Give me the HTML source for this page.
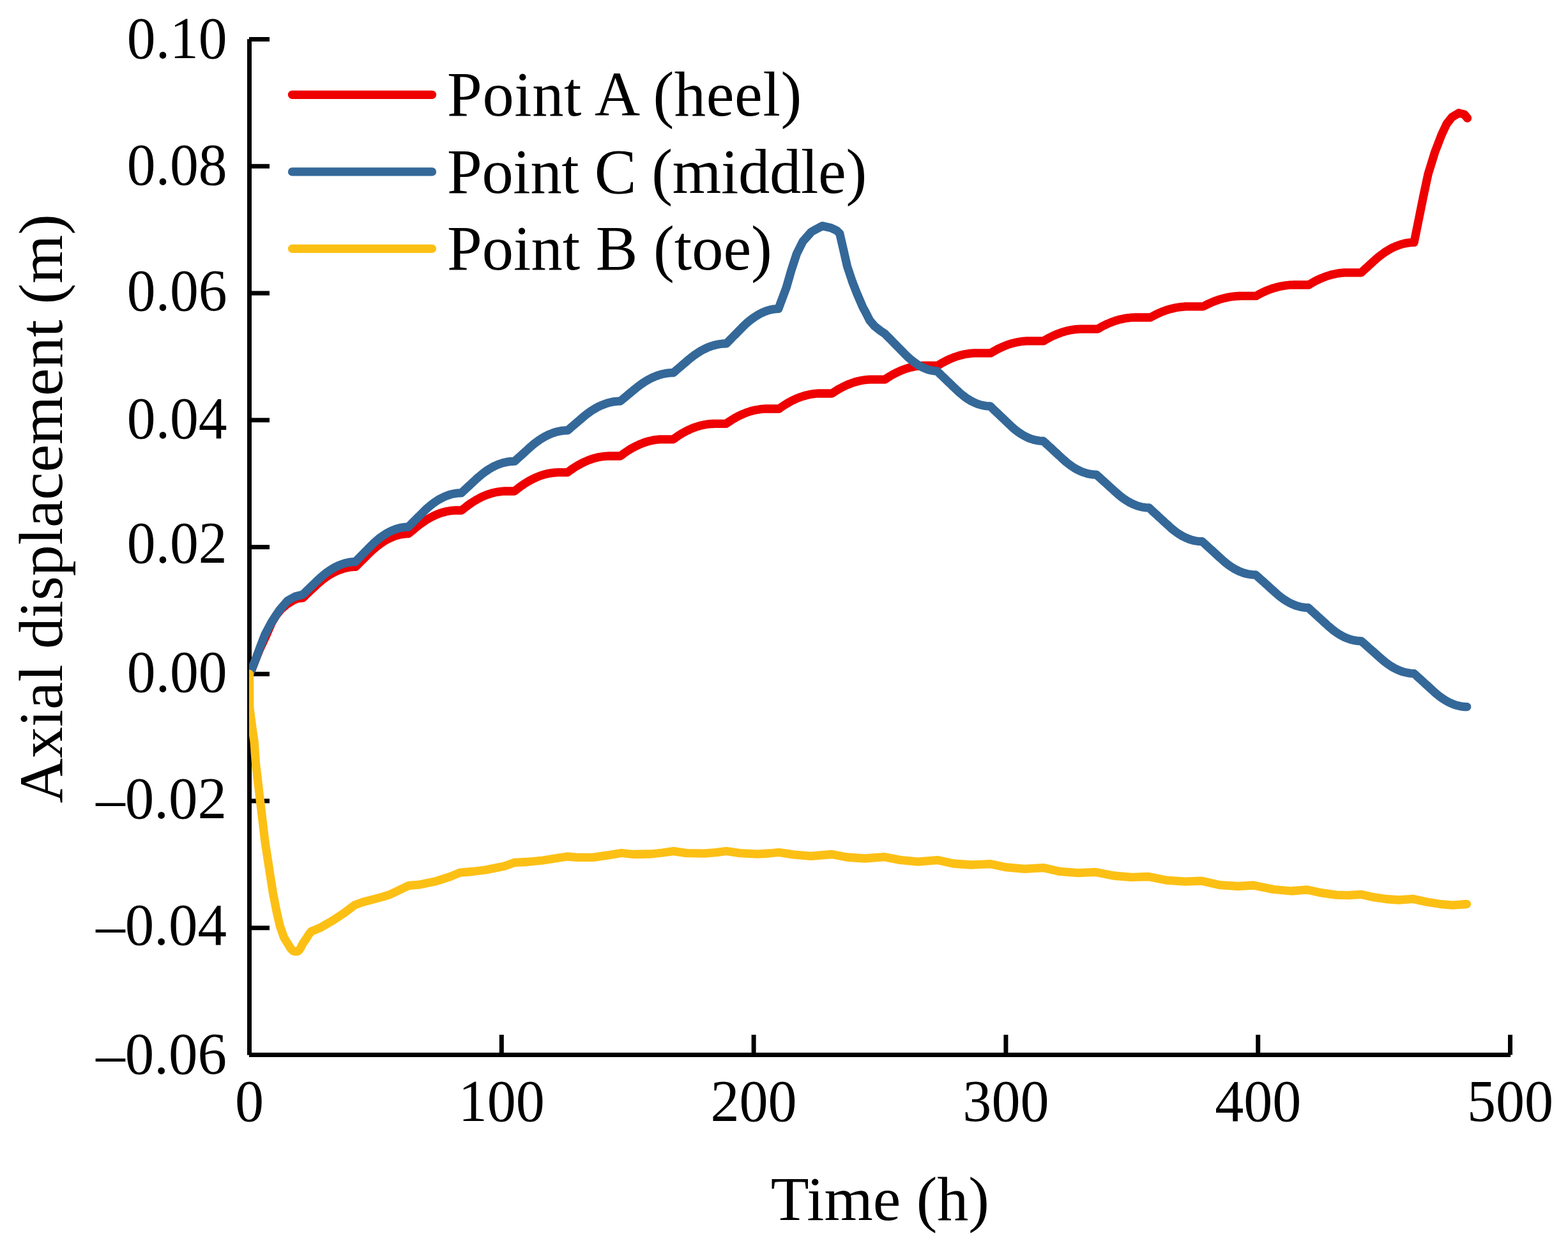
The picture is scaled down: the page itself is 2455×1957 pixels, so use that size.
<!DOCTYPE html>
<html><head><meta charset="utf-8"><title>Axial displacement vs time</title>
<style>html,body{margin:0;padding:0;background:#fff;}svg{display:block;}</style>
</head><body>
<svg width="2455" height="1957" viewBox="0 0 2455 1957"><defs><clipPath id="pa"><rect x="390" y="40" width="1990" height="1612"/></clipPath></defs>
<g stroke="#000" stroke-width="7" fill="none">
<path d="M390.5 61.2V1651.7"/>
<path d="M390 1651.5H2365"/>
<path d="M390 61.50H422"/>
<path d="M390 260.25H422"/>
<path d="M390 459.00H422"/>
<path d="M390 657.75H422"/>
<path d="M390 856.50H422"/>
<path d="M390 1055.25H422"/>
<path d="M390 1254.00H422"/>
<path d="M390 1452.75H422"/>
<path d="M390 1651.50H422"/>
<path d="M785.30 1620V1651.5"/>
<path d="M1180.10 1620V1651.5"/>
<path d="M1574.90 1620V1651.5"/>
<path d="M1969.70 1620V1651.5"/>
<path d="M2364.50 1620V1651.5"/>
</g>
<g font-family="'Liberation Serif', serif" font-size="91" text-anchor="end" fill="#000">
<text transform="translate(355.7 90.70) scale(0.985 1.02)">0.10</text>
<text transform="translate(355.7 289.00) scale(0.985 1.02)">0.08</text>
<text transform="translate(355.7 486.00) scale(0.985 1.02)">0.06</text>
<text transform="translate(355.7 685.70) scale(0.985 1.02)">0.04</text>
<text transform="translate(355.7 881.00) scale(0.985 1.02)">0.02</text>
<text transform="translate(355.7 1082.90) scale(0.985 1.02)">0.00</text>
<text transform="translate(354.95 1280.95) scale(1 1.02)">–0.02</text>
<text transform="translate(354.95 1478.95) scale(1 1.02)">–0.04</text>
<text transform="translate(354.95 1680.75) scale(1 1.02)">–0.06</text>
</g>
<g font-family="'Liberation Serif', serif" font-size="91" text-anchor="middle" fill="#000">
<text transform="translate(390.50 1754.95) scale(0.99 1.02)">0</text>
<text transform="translate(785.30 1754.95) scale(0.99 1.02)">100</text>
<text transform="translate(1180.10 1754.95) scale(0.99 1.02)">200</text>
<text transform="translate(1574.90 1754.95) scale(0.99 1.02)">300</text>
<text transform="translate(1969.70 1754.95) scale(0.99 1.02)">400</text>
<text transform="translate(2364.50 1754.95) scale(0.99 1.02)">500</text>
</g>
<text x="1377.9" y="1909.5" font-family="'Liberation Serif', serif" font-size="98" text-anchor="middle">Time (h)</text>
<text transform="translate(96.6 796.3) rotate(-90)" x="0" y="0" font-family="'Liberation Serif', serif" font-size="97.7" text-anchor="middle">Axial displacement (m)</text>
<path d="M457.5 148.3H676.5" stroke="#EE0000" stroke-width="13.3" stroke-linecap="round" fill="none"/>
<text x="700" y="180.9" font-family="'Liberation Serif', serif" font-size="98.5" textLength="555.2" lengthAdjust="spacing">Point A (heel)</text>
<path d="M457.5 268.9H676.5" stroke="#346899" stroke-width="13.3" stroke-linecap="round" fill="none"/>
<text x="700" y="302.2" font-family="'Liberation Serif', serif" font-size="98.5" textLength="657.2" lengthAdjust="spacing">Point C (middle)</text>
<path d="M457.5 389.4H676.5" stroke="#FCC015" stroke-width="13.3" stroke-linecap="round" fill="none"/>
<text x="700" y="422.2" font-family="'Liberation Serif', serif" font-size="98.5">Point B (toe)</text>
<g clip-path="url(#pa)" fill="none" stroke-width="13.3" stroke-linejoin="round" stroke-linecap="round">
<path stroke="#EE0000" d="M390.5 1055.2L393.8 1049.0 401.0 1030.4 405.9 1018.2 417.5 993.1 425.6 974.5 432.4 963.3 439.9 954.0 450.0 945.5 459.5 939.6 466.0 937.0 474.0 936.1 477.0 933.3 479.9 930.5 482.9 927.7 485.8 925.0 488.8 922.2 491.8 919.4 494.7 916.6 497.7 913.9 500.6 911.3 503.6 908.8 506.6 906.5 509.5 904.3 512.5 902.3 515.5 900.3 518.4 898.6 521.4 896.9 524.3 895.4 527.3 894.0 530.3 892.7 533.2 891.6 536.2 890.6 539.1 889.7 542.1 889.0 545.1 888.4 548.0 887.9 551.0 887.6 553.9 887.4 556.9 887.3 559.9 884.3 562.8 881.4 565.8 878.4 568.7 875.5 571.7 872.5 574.6 869.6 577.6 866.6 580.6 863.7 583.5 861.0 586.5 858.4 589.4 855.9 592.4 853.6 595.3 851.4 598.3 849.4 601.3 847.5 604.2 845.7 607.2 844.1 610.1 842.6 613.1 841.3 616.0 840.1 619.0 839.0 622.0 838.1 624.9 837.3 627.9 836.7 630.8 836.2 633.8 835.8 636.7 835.6 639.7 835.5 642.7 833.0 645.6 830.6 648.6 828.1 651.5 825.7 654.5 823.2 657.5 820.9 660.4 818.8 663.4 816.7 666.3 814.7 669.3 812.9 672.3 811.2 675.2 809.6 678.2 808.1 681.2 806.7 684.1 805.4 687.1 804.3 690.0 803.2 693.0 802.3 696.0 801.5 698.9 800.8 701.9 800.2 704.8 799.7 707.8 799.4 710.8 799.1 713.7 799.0 716.7 799.0 719.6 799.0 722.6 799.0 725.6 796.7 728.5 794.4 731.5 792.1 734.4 789.9 737.4 787.9 740.3 785.9 743.3 784.1 746.3 782.3 749.2 780.7 752.2 779.1 755.1 777.7 758.1 776.4 761.0 775.2 764.0 774.1 767.0 773.1 769.9 772.2 772.9 771.4 775.8 770.8 778.8 770.2 781.7 769.8 784.7 769.4 787.7 769.2 790.6 769.0 793.6 769.0 796.5 769.0 799.5 769.0 802.4 769.0 805.4 769.0 808.4 766.7 811.3 764.4 814.3 762.2 817.2 760.1 820.2 758.0 823.2 756.1 826.1 754.3 829.1 752.6 832.0 751.0 835.0 749.5 838.0 748.1 840.9 746.8 843.9 745.6 846.8 744.5 849.8 743.6 852.8 742.7 855.7 742.0 858.7 741.3 861.7 740.8 864.6 740.4 867.6 740.0 870.5 739.8 873.5 739.7 876.5 739.7 879.4 739.7 882.4 739.7 885.3 739.7 888.3 739.7 891.3 737.5 894.2 735.4 897.2 733.4 900.1 731.4 903.1 729.6 906.1 727.9 909.0 726.2 912.0 724.7 914.9 723.3 917.9 722.0 920.9 720.7 923.8 719.6 926.8 718.6 929.8 717.7 932.7 716.9 935.7 716.1 938.6 715.5 941.6 715.0 944.6 714.6 947.5 714.3 950.5 714.1 953.4 714.0 956.4 714.0 959.4 714.0 962.3 714.0 965.3 714.0 968.2 714.0 971.2 714.0 974.2 711.8 977.1 709.7 980.1 707.6 983.0 705.6 986.0 703.8 988.9 702.0 991.9 700.4 994.9 698.8 997.8 697.4 1000.8 696.0 1003.7 694.8 1006.7 693.6 1009.6 692.6 1012.6 691.6 1015.6 690.8 1018.5 690.1 1021.5 689.4 1024.4 688.9 1027.4 688.5 1030.3 688.2 1033.3 687.9 1036.3 687.8 1039.2 687.8 1042.2 687.8 1045.1 687.8 1048.1 687.8 1051.0 687.8 1054.0 687.8 1057.0 685.7 1059.9 683.6 1062.9 681.7 1065.8 679.8 1068.8 678.0 1071.8 676.4 1074.7 674.8 1077.7 673.4 1080.6 672.0 1083.6 670.7 1086.6 669.6 1089.5 668.5 1092.5 667.6 1095.5 666.7 1098.4 665.9 1101.4 665.3 1104.3 664.7 1107.3 664.2 1110.3 663.9 1113.2 663.6 1116.2 663.5 1119.1 663.4 1122.1 663.4 1125.1 663.4 1128.0 663.4 1131.0 663.4 1133.9 663.4 1136.9 663.4 1139.9 661.3 1142.8 659.3 1145.8 657.4 1148.7 655.6 1151.7 653.9 1154.6 652.3 1157.6 650.8 1160.6 649.4 1163.5 648.1 1166.5 646.9 1169.4 645.8 1172.4 644.8 1175.3 643.8 1178.3 643.0 1181.3 642.3 1184.2 641.7 1187.2 641.2 1190.1 640.7 1193.1 640.4 1196.0 640.2 1199.0 640.0 1202.0 640.0 1204.9 640.0 1207.9 640.0 1210.8 640.0 1213.8 640.0 1216.7 640.0 1219.7 640.0 1222.7 637.9 1225.6 635.9 1228.6 633.9 1231.5 632.1 1234.5 630.4 1237.5 628.7 1240.4 627.2 1243.4 625.7 1246.3 624.4 1249.3 623.2 1252.3 622.0 1255.2 621.0 1258.2 620.0 1261.2 619.2 1264.1 618.4 1267.1 617.8 1270.0 617.2 1273.0 616.8 1276.0 616.4 1278.9 616.2 1281.9 616.0 1284.8 616.0 1287.8 616.0 1290.8 616.0 1293.7 616.0 1296.7 616.0 1299.6 616.0 1302.6 616.0 1305.6 614.0 1308.5 612.1 1311.5 610.3 1314.4 608.6 1317.4 607.0 1320.4 605.4 1323.3 604.0 1326.3 602.7 1329.2 601.5 1332.2 600.3 1335.2 599.3 1338.1 598.3 1341.1 597.5 1344.0 596.7 1347.0 596.1 1350.0 595.5 1352.9 595.0 1355.9 594.6 1358.9 594.4 1361.8 594.2 1364.8 594.1 1367.7 594.1 1370.7 594.1 1373.7 594.1 1376.6 594.1 1379.6 594.1 1382.5 594.1 1385.5 594.1 1388.5 592.1 1391.4 590.2 1394.4 588.4 1397.3 586.7 1400.3 585.1 1403.2 583.6 1406.2 582.2 1409.2 580.8 1412.1 579.6 1415.1 578.5 1418.0 577.4 1421.0 576.5 1423.9 575.7 1426.9 574.9 1429.9 574.2 1432.8 573.7 1435.8 573.2 1438.7 572.8 1441.7 572.6 1444.6 572.4 1447.6 572.3 1450.6 572.3 1453.5 572.3 1456.5 572.3 1459.4 572.3 1462.4 572.3 1465.3 572.3 1468.3 572.3 1471.3 570.5 1474.2 568.7 1477.2 567.1 1480.1 565.5 1483.1 564.0 1486.1 562.6 1489.0 561.3 1492.0 560.1 1494.9 559.0 1497.9 558.0 1500.9 557.1 1503.8 556.2 1506.8 555.5 1509.8 554.8 1512.7 554.3 1515.7 553.8 1518.6 553.4 1521.6 553.1 1524.6 552.9 1527.5 552.8 1530.5 552.8 1533.4 552.8 1536.4 552.8 1539.4 552.8 1542.3 552.8 1545.3 552.8 1548.2 552.8 1551.2 552.8 1554.2 551.0 1557.1 549.3 1560.1 547.7 1563.0 546.1 1566.0 544.7 1568.9 543.3 1571.9 542.1 1574.9 540.9 1577.8 539.8 1580.8 538.8 1583.7 537.9 1586.7 537.1 1589.6 536.4 1592.6 535.7 1595.6 535.2 1598.5 534.7 1601.5 534.4 1604.4 534.1 1607.4 533.9 1610.3 533.8 1613.3 533.8 1616.3 533.8 1619.2 533.8 1622.2 533.8 1625.1 533.8 1628.1 533.8 1631.0 533.8 1634.0 533.8 1637.0 532.0 1640.0 530.3 1643.1 528.6 1646.1 527.1 1649.1 525.6 1652.1 524.3 1655.2 523.0 1658.2 521.9 1661.2 520.8 1664.2 519.8 1667.2 518.9 1670.3 518.1 1673.3 517.4 1676.3 516.8 1679.3 516.3 1682.3 515.9 1685.4 515.5 1688.4 515.3 1691.4 515.2 1694.4 515.1 1697.4 515.1 1700.5 515.1 1703.5 515.1 1706.5 515.1 1709.5 515.1 1712.6 515.1 1715.6 515.1 1718.6 515.1 1721.5 513.4 1724.5 511.7 1727.4 510.2 1730.4 508.7 1733.3 507.3 1736.3 506.0 1739.2 504.8 1742.2 503.7 1745.1 502.6 1748.1 501.7 1751.0 500.8 1754.0 500.1 1757.0 499.4 1759.9 498.8 1762.8 498.3 1765.8 497.8 1768.8 497.5 1771.7 497.2 1774.7 497.1 1777.6 497.0 1780.5 497.0 1783.5 497.0 1786.5 497.0 1789.4 497.0 1792.4 497.0 1795.3 497.0 1798.2 497.0 1801.2 497.0 1804.2 495.3 1807.1 493.8 1810.1 492.3 1813.0 490.9 1816.0 489.6 1818.9 488.3 1821.9 487.2 1824.9 486.1 1827.8 485.1 1830.8 484.2 1833.7 483.4 1836.7 482.7 1839.6 482.0 1842.6 481.5 1845.6 481.0 1848.5 480.6 1851.5 480.3 1854.4 480.0 1857.4 479.9 1860.3 479.8 1863.3 479.8 1866.3 479.8 1869.2 479.8 1872.2 479.8 1875.1 479.8 1878.1 479.8 1881.0 479.8 1884.0 479.8 1886.9 478.2 1889.9 476.7 1892.8 475.3 1895.8 474.0 1898.7 472.7 1901.7 471.6 1904.6 470.5 1907.6 469.4 1910.5 468.5 1913.5 467.6 1916.4 466.9 1919.4 466.2 1922.3 465.5 1925.2 465.0 1928.2 464.5 1931.1 464.2 1934.1 463.8 1937.0 463.6 1940.0 463.5 1942.9 463.4 1945.9 463.4 1948.8 463.4 1951.8 463.4 1954.7 463.4 1957.7 463.4 1960.6 463.4 1963.6 463.4 1966.5 463.4 1969.5 461.7 1972.4 460.1 1975.3 458.6 1978.3 457.2 1981.2 455.9 1984.2 454.6 1987.2 453.5 1990.1 452.4 1993.0 451.4 1996.0 450.5 1999.0 449.7 2001.9 448.9 2004.8 448.3 2007.8 447.7 2010.8 447.2 2013.7 446.8 2016.6 446.5 2019.6 446.2 2022.5 446.1 2025.5 446.0 2028.4 446.0 2031.4 446.0 2034.3 446.0 2037.3 446.0 2040.2 446.0 2043.2 446.0 2046.1 446.0 2049.1 446.0 2052.0 444.2 2055.0 442.5 2057.9 440.9 2060.8 439.3 2063.8 437.9 2066.7 436.5 2069.6 435.3 2072.6 434.1 2075.5 433.0 2078.4 432.0 2081.4 431.1 2084.3 430.2 2087.2 429.5 2090.1 428.9 2093.1 428.3 2096.0 427.8 2098.9 427.4 2101.9 427.2 2104.8 426.9 2107.7 426.8 2110.7 426.8 2113.6 426.8 2116.5 426.8 2119.5 426.8 2122.4 426.8 2125.3 426.8 2128.3 426.8 2131.2 426.8 2134.2 424.1 2137.1 421.4 2140.1 418.7 2143.0 416.0 2146.0 413.3 2148.9 410.6 2151.9 407.9 2154.9 405.3 2157.8 402.8 2160.8 400.4 2163.7 398.2 2166.7 396.0 2169.6 394.0 2172.6 392.2 2175.6 390.4 2178.5 388.8 2181.5 387.3 2184.4 386.0 2187.4 384.8 2190.3 383.7 2193.3 382.7 2196.3 381.9 2199.2 381.1 2202.2 380.6 2205.1 380.1 2208.1 379.8 2211.0 379.6 2214.0 379.5 2221.6 342.0 2228.6 307.1 2236.1 272.2 2246.9 237.3 2257.0 211.1 2265.0 194.0 2273.6 183.2 2284.0 177.0 2292.8 179.1 2297.5 185.0"/>
<path stroke="#346899" d="M390.5 1055.2L396.0 1043.0 401.0 1030.4 407.8 1011.7 415.0 993.1 425.0 974.5 437.1 955.9 450.2 940.5 462.0 934.0 474.0 931.0 476.9 928.2 479.9 925.3 482.8 922.5 485.8 919.7 488.7 916.9 491.6 914.0 494.6 911.2 497.5 908.4 500.5 905.6 503.4 903.0 506.3 900.5 509.3 898.1 512.2 895.9 515.1 893.8 518.1 891.9 521.0 890.1 524.0 888.4 526.9 886.9 529.8 885.5 532.8 884.3 535.7 883.2 538.7 882.2 541.6 881.4 544.5 880.8 547.5 880.2 550.4 879.9 553.4 879.6 556.3 879.5 559.3 876.5 562.2 873.5 565.2 870.5 568.1 867.5 571.1 864.5 574.0 861.5 577.0 858.5 580.0 855.5 582.9 852.5 585.9 849.7 588.8 847.1 591.8 844.6 594.7 842.2 597.7 840.0 600.7 838.0 603.6 836.1 606.6 834.3 609.5 832.7 612.5 831.3 615.4 830.0 618.4 828.9 621.4 827.9 624.3 827.0 627.3 826.3 630.2 825.8 633.2 825.4 636.1 825.2 639.1 825.1 642.1 822.1 645.0 819.2 648.0 816.2 651.0 813.3 654.0 810.3 656.9 807.4 659.9 804.4 662.9 801.4 665.8 798.5 668.8 795.8 671.8 793.2 674.8 790.7 677.7 788.4 680.7 786.3 683.7 784.3 686.6 782.4 689.6 780.7 692.6 779.2 695.6 777.8 698.5 776.5 701.5 775.4 704.5 774.4 707.4 773.6 710.4 773.0 713.4 772.4 716.4 772.1 719.3 771.9 722.3 771.8 725.3 769.0 728.3 766.3 731.2 763.5 734.2 760.8 737.2 758.0 740.2 755.2 743.1 752.5 746.1 749.7 749.1 747.0 752.1 744.5 755.1 742.0 758.0 739.8 761.0 737.6 764.0 735.6 767.0 733.7 770.0 732.0 772.9 730.4 775.9 729.0 778.9 727.7 781.9 726.5 784.9 725.5 787.8 724.6 790.8 723.9 793.8 723.2 796.8 722.8 799.7 722.4 802.7 722.3 805.7 722.2 808.7 719.5 811.6 716.8 814.6 714.2 817.6 711.5 820.5 708.8 823.5 706.1 826.5 703.4 829.4 700.8 832.4 698.1 835.3 695.6 838.3 693.3 841.3 691.1 844.2 689.0 847.2 687.0 850.2 685.2 853.1 683.5 856.1 682.0 859.1 680.5 862.0 679.3 865.0 678.1 868.0 677.1 870.9 676.2 873.9 675.5 876.8 674.9 879.8 674.4 882.8 674.1 885.7 673.9 888.7 673.8 891.7 671.3 894.6 668.8 897.6 666.2 900.5 663.7 903.5 661.2 906.4 658.7 909.4 656.1 912.3 653.6 915.2 651.1 918.2 648.8 921.1 646.6 924.1 644.4 927.0 642.5 930.0 640.6 933.0 638.9 935.9 637.3 938.9 635.8 941.8 634.5 944.8 633.3 947.7 632.2 950.6 631.2 953.6 630.4 956.5 629.7 959.5 629.1 962.4 628.6 965.4 628.3 968.3 628.1 971.3 628.0 974.3 625.5 977.2 623.1 980.2 620.6 983.1 618.2 986.1 615.7 989.1 613.3 992.0 610.8 995.0 608.4 997.9 606.0 1000.9 603.7 1003.9 601.5 1006.8 599.5 1009.8 597.5 1012.8 595.8 1015.7 594.1 1018.7 592.5 1021.6 591.1 1024.6 589.8 1027.6 588.6 1030.5 587.6 1033.5 586.7 1036.4 585.8 1039.4 585.2 1042.4 584.6 1045.3 584.2 1048.3 583.9 1051.2 583.7 1054.2 583.6 1057.2 581.1 1060.1 578.5 1063.1 576.0 1066.1 573.5 1069.0 570.9 1072.0 568.4 1075.0 565.9 1077.9 563.3 1080.9 560.9 1083.9 558.5 1086.8 556.3 1089.8 554.2 1092.8 552.2 1095.8 550.3 1098.7 548.6 1101.7 547.0 1104.7 545.6 1107.6 544.2 1110.6 543.0 1113.6 541.9 1116.5 541.0 1119.5 540.2 1122.5 539.5 1125.4 538.9 1128.4 538.5 1131.4 538.1 1134.3 538.0 1137.3 537.9 1140.2 534.9 1143.1 532.0 1146.0 529.0 1148.9 526.0 1151.9 523.1 1154.8 520.1 1157.7 517.1 1160.6 514.2 1163.5 511.2 1166.4 508.4 1169.3 505.8 1172.2 503.3 1175.1 501.0 1178.0 498.8 1181.0 496.7 1183.9 494.8 1186.8 493.0 1189.7 491.4 1192.6 489.9 1195.5 488.6 1198.4 487.4 1201.3 486.4 1204.2 485.5 1207.2 484.8 1210.1 484.2 1213.0 483.8 1215.9 483.5 1218.8 483.3 1231.1 450.4 1238.8 423.6 1247.5 396.9 1256.9 378.2 1270.3 363.0 1287.7 353.7 1301.0 356.8 1310.0 361.0 1314.7 365.5 1320.4 390.2 1326.5 417.0 1334.5 441.0 1341.9 460.0 1350.9 480.9 1354.8 487.9 1361.9 501.9 1369.3 510.6 1378.0 517.5 1385.8 522.8 1388.7 525.8 1391.6 528.7 1394.5 531.7 1397.4 534.6 1400.3 537.6 1403.2 540.5 1406.1 543.5 1409.0 546.4 1411.9 549.4 1414.8 552.3 1417.7 555.3 1420.6 558.1 1423.5 560.8 1426.4 563.3 1429.4 565.6 1432.3 567.8 1435.2 569.8 1438.1 571.7 1441.0 573.4 1443.9 574.9 1446.8 576.2 1449.7 577.4 1452.6 578.4 1455.5 579.3 1458.4 579.9 1461.3 580.4 1464.2 580.8 1467.1 581.0 1470.1 583.8 1473.0 586.7 1476.0 589.5 1479.0 592.4 1481.9 595.2 1484.9 598.1 1487.9 600.9 1490.8 603.8 1493.8 606.6 1496.8 609.5 1499.7 612.3 1502.7 615.0 1505.7 617.5 1508.7 619.9 1511.6 622.1 1514.6 624.2 1517.6 626.0 1520.5 627.8 1523.5 629.3 1526.5 630.7 1529.4 631.9 1532.4 633.0 1535.4 633.9 1538.3 634.6 1541.3 635.2 1544.3 635.6 1547.2 635.8 1550.2 635.9 1553.2 638.7 1556.1 641.6 1559.1 644.4 1562.1 647.2 1565.1 650.0 1568.0 652.9 1571.0 655.7 1574.0 658.5 1576.9 661.4 1579.9 664.2 1582.9 667.0 1585.9 669.7 1588.8 672.2 1591.8 674.6 1594.8 676.8 1597.7 678.8 1600.7 680.6 1603.7 682.4 1606.7 683.9 1609.6 685.3 1612.6 686.5 1615.6 687.5 1618.5 688.4 1621.5 689.1 1624.5 689.7 1627.5 690.1 1630.4 690.3 1633.4 690.4 1636.4 693.1 1639.3 695.9 1642.3 698.6 1645.3 701.3 1648.3 704.1 1651.2 706.8 1654.2 709.5 1657.2 712.3 1660.1 715.0 1663.1 717.8 1666.1 720.5 1669.1 723.1 1672.0 725.5 1675.0 727.8 1678.0 729.9 1680.9 731.9 1683.9 733.7 1686.9 735.3 1689.9 736.8 1692.8 738.1 1695.8 739.3 1698.8 740.3 1701.7 741.2 1704.7 741.9 1707.7 742.4 1710.7 742.8 1713.6 743.0 1716.6 743.1 1719.5 745.8 1722.5 748.4 1725.4 751.1 1728.4 753.8 1731.3 756.4 1734.3 759.1 1737.2 761.8 1740.1 764.4 1743.1 767.1 1746.0 769.8 1749.0 772.4 1751.9 775.0 1754.9 777.4 1757.8 779.6 1760.7 781.7 1763.7 783.6 1766.6 785.4 1769.6 787.1 1772.5 788.5 1775.5 789.9 1778.4 791.0 1781.3 792.1 1784.3 792.9 1787.2 793.7 1790.2 794.2 1793.1 794.6 1796.1 794.9 1799.0 795.0 1802.0 797.7 1804.9 800.5 1807.9 803.2 1810.9 805.9 1813.8 808.7 1816.8 811.4 1819.8 814.1 1822.7 816.9 1825.7 819.6 1828.7 822.3 1831.6 825.0 1834.6 827.6 1837.6 830.1 1840.5 832.3 1843.5 834.5 1846.5 836.4 1849.5 838.2 1852.4 839.9 1855.4 841.4 1858.4 842.7 1861.3 843.9 1864.3 844.9 1867.3 845.8 1870.2 846.5 1873.2 847.0 1876.2 847.4 1879.1 847.6 1882.1 847.7 1885.1 850.4 1888.1 853.1 1891.1 855.9 1894.1 858.6 1897.1 861.3 1900.1 864.0 1903.0 866.8 1906.0 869.5 1909.0 872.2 1912.0 874.9 1915.0 877.6 1918.0 880.2 1921.0 882.6 1924.0 884.9 1927.0 887.0 1930.0 888.9 1933.0 890.7 1936.0 892.3 1939.0 893.8 1942.0 895.1 1945.0 896.2 1947.9 897.2 1950.9 898.0 1953.9 898.7 1956.9 899.2 1959.9 899.6 1962.9 899.8 1965.9 899.8 1968.8 902.5 1971.8 905.1 1974.7 907.8 1977.7 910.4 1980.6 913.1 1983.6 915.7 1986.5 918.4 1989.4 921.1 1992.4 923.7 1995.3 926.4 1998.3 929.0 2001.2 931.6 2004.2 934.0 2007.1 936.2 2010.0 938.3 2013.0 940.2 2015.9 942.0 2018.9 943.6 2021.8 945.1 2024.8 946.4 2027.7 947.6 2030.6 948.6 2033.6 949.4 2036.5 950.2 2039.5 950.7 2042.4 951.1 2045.4 951.4 2048.3 951.5 2051.3 954.2 2054.2 956.9 2057.2 959.6 2060.2 962.3 2063.1 965.0 2066.1 967.7 2069.1 970.4 2072.0 973.1 2075.0 975.8 2077.9 978.5 2080.9 981.2 2083.9 983.7 2086.8 986.1 2089.8 988.4 2092.8 990.5 2095.7 992.4 2098.7 994.2 2101.7 995.8 2104.6 997.3 2107.6 998.6 2110.6 999.8 2113.5 1000.8 2116.5 1001.7 2119.4 1002.4 2122.4 1002.9 2125.4 1003.3 2128.3 1003.5 2131.3 1003.6 2134.2 1006.2 2137.2 1008.8 2140.2 1011.5 2143.1 1014.1 2146.1 1016.7 2149.0 1019.3 2152.0 1021.9 2154.9 1024.5 2157.9 1027.2 2160.8 1029.8 2163.8 1032.4 2166.7 1034.9 2169.7 1037.2 2172.6 1039.4 2175.6 1041.5 2178.5 1043.4 2181.5 1045.1 2184.4 1046.7 2187.3 1048.1 2190.3 1049.4 2193.2 1050.6 2196.2 1051.6 2199.2 1052.4 2202.1 1053.1 2205.1 1053.7 2208.0 1054.1 2211.0 1054.3 2213.9 1054.4 2216.9 1057.1 2219.8 1059.8 2222.8 1062.5 2225.7 1065.2 2228.7 1067.9 2231.6 1070.6 2234.6 1073.3 2237.6 1076.0 2240.5 1078.7 2243.5 1081.4 2246.4 1084.1 2249.4 1086.6 2252.3 1089.0 2255.3 1091.3 2258.3 1093.4 2261.2 1095.3 2264.2 1097.1 2267.1 1098.8 2270.1 1100.2 2273.0 1101.6 2276.0 1102.7 2279.0 1103.8 2281.9 1104.6 2284.9 1105.3 2287.8 1105.9 2290.8 1106.3 2293.7 1106.5 2296.7 1106.6"/>
<path stroke="#FCC015" d="M390.5 1055.2L390.8 1108.0 395.3 1142.4 398.1 1161.0 399.4 1180.0 400.8 1198.3 407.3 1253.3 415.2 1319.6 423.0 1370.0 427.4 1397.9 432.8 1425.8 438.1 1449.1 444.6 1467.7 450.9 1478.0 455.2 1485.0 458.3 1488.2 461.0 1489.5 465.5 1489.5 468.2 1487.8 470.6 1484.2 474.2 1477.0 478.9 1470.5 483.5 1463.1 487.2 1458.2 491.0 1456.8 503.1 1451.6 521.7 1440.7 540.3 1428.4 555.2 1417.0 568.2 1412.3 586.8 1407.4 600.0 1403.9 610.0 1400.7 639.7 1386.5 655.7 1385.2 683.5 1379.4 704.4 1372.6 720.4 1366.1 740.0 1364.5 760.0 1362.0 790.0 1356.0 805.2 1350.4 825.0 1349.5 850.0 1347.0 875.0 1343.0 888.3 1341.0 904.1 1342.3 928.2 1342.3 954.2 1338.6 972.8 1335.5 991.3 1337.5 1019.1 1337.0 1037.7 1335.0 1054.4 1332.7 1074.8 1335.6 1102.6 1336.2 1121.2 1334.7 1137.0 1332.5 1158.3 1335.6 1186.1 1337.1 1204.7 1336.0 1219.5 1334.5 1241.8 1337.9 1269.6 1340.3 1302.5 1337.5 1325.7 1342.0 1353.5 1344.0 1385.0 1341.7 1409.1 1346.4 1437.0 1349.2 1467.6 1346.6 1492.6 1352.0 1520.5 1354.0 1551.1 1352.7 1576.1 1357.9 1604.0 1360.3 1633.6 1358.6 1659.6 1364.4 1687.8 1366.7 1715.7 1365.4 1743.5 1371.0 1771.3 1373.4 1798.2 1372.5 1827.0 1378.2 1854.8 1380.1 1881.7 1379.2 1910.5 1385.7 1938.3 1387.5 1962.4 1386.0 1994.0 1392.5 2021.8 1395.0 2046.5 1393.0 2066.0 1397.3 2092.0 1401.2 2111.4 1401.6 2130.9 1400.3 2150.4 1404.7 2169.9 1407.5 2189.4 1409.0 2212.7 1407.4 2234.8 1412.3 2254.3 1415.3 2273.8 1417.1 2296.5 1415.5"/>
</g></svg>
</body></html>
